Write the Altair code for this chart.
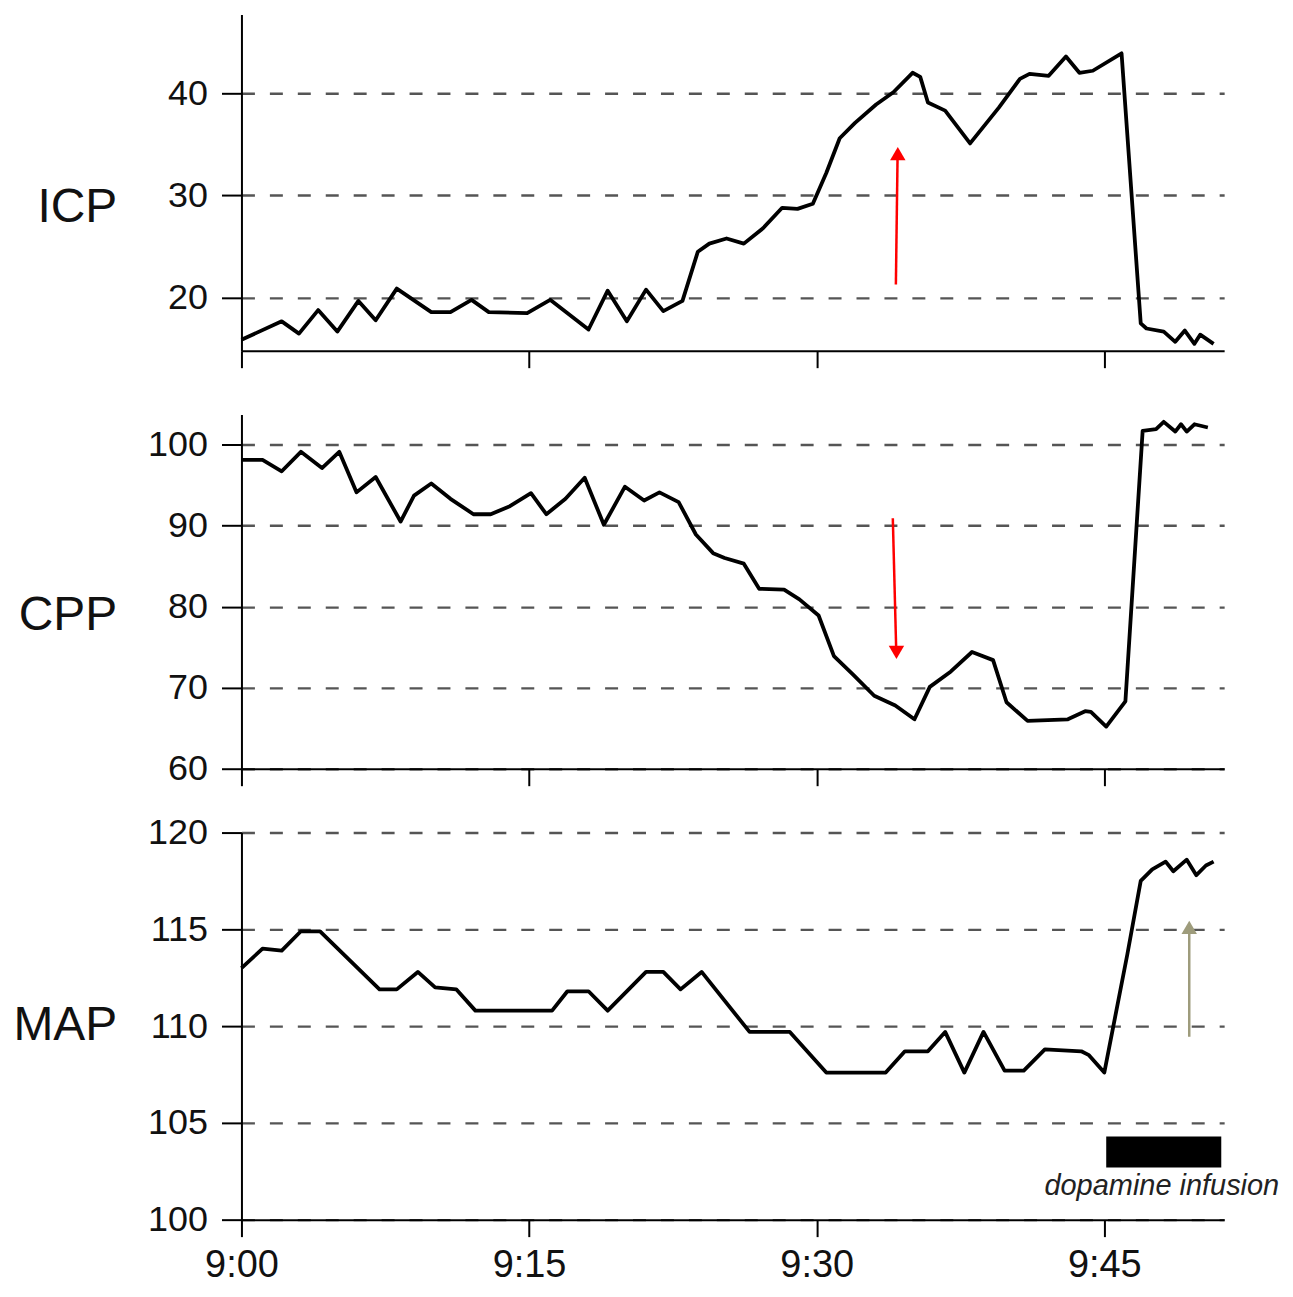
import altair as alt
import pandas as pd

# ---------------- data (minutes after 9:00) ----------------
icp_t = [0.0, 2.1, 3.0, 4.0, 5.0, 6.1, 7.0, 8.1, 9.9, 10.9, 12.0, 12.9, 14.9, 16.1, 18.1,
         19.1, 20.1, 21.1, 22.0, 23.0, 23.8, 24.4, 25.3, 26.2, 27.2, 28.2, 29.0, 29.8,
         30.5, 31.2, 32.0, 33.1, 34.0, 35.0, 35.4, 35.8, 36.7, 38.0, 39.5, 40.6, 41.1,
         42.1, 43.0, 43.7, 44.4, 45.9, 46.9, 47.2, 48.1, 48.7, 49.2, 49.7, 50.0, 50.7]
icp_v = [15.9, 17.7, 16.5, 18.8, 16.7, 19.7, 17.8, 20.9, 18.6, 18.6, 19.8, 18.6, 18.5, 19.8, 16.9,
         20.7, 17.7, 20.8, 18.7, 19.7, 24.5, 25.3, 25.8, 25.3, 26.8, 28.8, 28.7, 29.2,
         32.2, 35.6, 37.1, 38.9, 40.1, 42.0, 41.6, 39.1, 38.3, 35.1, 38.6, 41.4, 41.9,
         41.7, 43.6, 42.0, 42.2, 43.9, 17.5, 17.0, 16.7, 15.7, 16.8, 15.5, 16.4, 15.5]

cpp_t = [0.0, 1.1, 2.1, 3.1, 4.2, 5.1, 6.0, 7.0, 8.3, 9.0, 9.9, 10.9, 12.1, 13.0, 14.0,
         15.1, 15.9, 16.9, 17.9, 18.9, 20.0, 21.0, 21.8, 22.8, 23.7, 24.6, 25.2, 26.2,
         27.0, 28.3, 29.1, 30.1, 30.9, 31.9, 33.0, 34.1, 35.1, 35.9, 37.0, 38.1, 39.2,
         39.9, 41.0, 43.1, 44.0, 44.3, 45.1, 46.1, 47.0, 47.7, 48.1, 48.7, 49.0, 49.3,
         49.7, 50.4]
cpp_v = [98.1, 98.1, 96.7, 99.1, 97.1, 99.1, 94.1, 96.0, 90.5, 93.7, 95.2, 93.3, 91.4, 91.4, 92.4,
         94.0, 91.4, 93.3, 95.9, 90.1, 94.8, 93.1, 94.1, 92.9, 88.9, 86.6, 86.0, 85.3,
         82.2, 82.1, 80.9, 78.9, 73.9, 71.6, 69.0, 67.8, 66.1, 70.1, 72.0, 74.4, 73.4,
         68.2, 65.9, 66.1, 67.1, 67.0, 65.2, 68.3, 101.7, 101.9, 102.8, 101.6, 102.5, 101.6,
         102.5, 102.1]

map_t = [0.0, 1.1, 2.1, 3.1, 4.1, 7.2, 8.1, 9.2, 10.1, 11.2, 12.2, 16.2, 17.0, 18.1, 19.1,
         21.1, 22.0, 22.9, 24.0, 26.5, 28.6, 30.5, 33.6, 34.6, 35.8, 36.7, 37.7, 38.7,
         39.8, 40.8, 41.9, 43.8, 44.2, 45.0, 46.2, 46.9, 47.5, 48.2, 48.6, 49.3, 49.8,
         50.3, 50.7]
map_v = [113.0, 114.0, 113.9, 114.9, 114.9, 111.9, 111.9, 112.8, 112.0, 111.9, 110.8, 110.8, 111.8, 111.8, 110.8,
         112.8, 112.8, 111.9, 112.8, 109.7, 109.7, 107.6, 107.6, 108.7, 108.7, 109.7, 107.6, 109.7,
         107.7, 107.7, 108.8, 108.7, 108.5, 107.6, 113.7, 117.5, 118.1, 118.5, 118.0, 118.6, 117.8,
         118.3, 118.5]

x_ticks = [0, 15, 30, 45]
icp_ticks = [20, 30, 40]
cpp_ticks = [60, 70, 80, 90, 100]
map_ticks = [100, 105, 110, 115, 120]

# annotation arrows (data coords): shaft start, shaft end, head centre
icp_arrow = {"t": 34.13, "v": 21.3, "t2": 34.22, "v2": 34.1, "ht": 34.23, "hv": 34.1}
cpp_arrow = {"t": 33.97, "v": 90.9, "t2": 34.15, "v2": 74.4, "ht": 34.16, "hv": 74.35}
map_arrow = {"t": 49.43, "v": 109.45, "t2": 49.43, "v2": 115.1, "ht": 49.43, "hv": 115.1}

dopa_bar = {"t": 45.1, "t2": 51.1, "v": 102.7, "v2": 104.3}
dopa_text = {"t": 48.0, "v": 101.25, "label": "dopamine infusion"}

# ---------------- styling ----------------
X_DOMAIN = [0, 51.25]
W = 985
NUM_FONT = "Liberation Sans, Arial, sans-serif"
TITLE_FONT = "Liberation Sans, Arial, sans-serif"


def x_enc(field, show_labels):
    return alt.X(
        f"{field}:Q",
        scale=alt.Scale(domain=X_DOMAIN, nice=False, zero=False),
        axis=alt.Axis(
            values=x_ticks,
            labels=show_labels,
            labelExpr="'9:' + (datum.value < 10 ? '0' : '') + datum.value",
            labelFont=NUM_FONT,
            labelFontSize=38,
            labelColor="#111111",
            labelPadding=10,
            labelFlush=False,
            tickSize=17,
            tickWidth=2,
            tickColor="black",
            domainColor="black",
            domainWidth=2,
            grid=False,
            title=None,
        ),
    )


def y_enc(field, domain, ticks, title, title_y):
    return alt.Y(
        f"{field}:Q",
        scale=alt.Scale(domain=domain, nice=False, zero=False),
        axis=alt.Axis(
            values=ticks,
            title=title,
            titleAngle=0,
            titleAlign="right",
            titleBaseline="alphabetic",
            titleX=-125,
            titleY=title_y,
            titleFont=TITLE_FONT,
            titleFontSize=48,
            titleFontWeight="normal",
            titleColor="#111111",
            labelFont=NUM_FONT,
            labelFontSize=36,
            labelColor="#111111",
            labelPadding=14,
            labelOverlap=False,
            labelFlush=False,
            tickSize=20,
            tickWidth=2,
            tickColor="black",
            domainColor="black",
            domainWidth=2,
            grid=True,
            gridDash=[13, 15],
            gridColor="#555555",
            gridWidth=2.4,
        ),
    )


def panel(ts, vs, domain, ticks, title, title_y, height, show_x_labels, arrow, arrow_color, head_shape,
          extras=()):
    df = pd.DataFrame({"t": ts, "v": vs})
    line = alt.Chart(df).mark_line(color="black", strokeWidth=3.8, strokeJoin="round").encode(
        x=x_enc("t", show_x_labels),
        y=y_enc("v", domain, ticks, title, title_y),
    )
    adf = pd.DataFrame([arrow])
    shaft = alt.Chart(adf).mark_rule(color=arrow_color, strokeWidth=2.5).encode(
        x=x_enc("t", show_x_labels), x2="t2",
        y=y_enc("v", domain, ticks, title, title_y), y2="v2",
    )
    head = alt.Chart(adf).mark_point(shape=head_shape, filled=True, size=240, color=arrow_color, opacity=1).encode(
        x=x_enc("ht", show_x_labels),
        y=y_enc("hv", domain, ticks, title, title_y),
    )
    layers = [line, shaft, head] + list(extras)
    return alt.layer(*layers).properties(width=W, height=height)


# dopamine infusion marker (MAP panel)
map_domain = [100, 120]
bar = alt.Chart(pd.DataFrame([dopa_bar])).mark_rect(color="black").encode(
    x=x_enc("t", True), x2="t2",
    y=y_enc("v", map_domain, map_ticks, "MAP", 207), y2="v2",
)
txt = alt.Chart(pd.DataFrame([dopa_text])).mark_text(
    font=TITLE_FONT, fontStyle="italic", fontSize=29, color="#222222",
    align="center", baseline="alphabetic",
).encode(
    x=x_enc("t", True),
    y=y_enc("v", map_domain, map_ticks, "MAP", 207),
    text="label:N",
)

icp = panel(icp_t, icp_v, [14.83, 47.7], icp_ticks, "ICP", 207, 337, False, icp_arrow, "#ff0000", "triangle-up")
cpp = panel(cpp_t, cpp_v, [60, 103.7], cpp_ticks, "CPP", 215, 355, False, cpp_arrow, "#ff0000", "triangle-down")
mapp = panel(map_t, map_v, map_domain, map_ticks, "MAP", 207, 388, True, map_arrow, "#9e9c7c", "triangle-up",
             extras=(bar, txt))

chart = alt.vconcat(icp, cpp, mapp, spacing=64, bounds="flush").properties(
    padding={"left": 4, "top": 4, "right": 5, "bottom": 5},
    background="white",
).configure_view(stroke="transparent")

chart.save("out.html", embed_options={"renderer": "svg", "actions": False})
